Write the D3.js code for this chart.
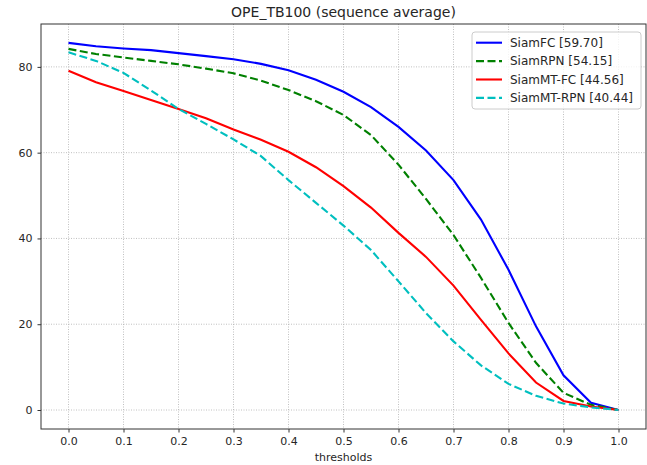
<!DOCTYPE html>
<html><head><meta charset="utf-8">
<script src="https://cdn.jsdelivr.net/npm/d3@7/dist/d3.min.js"></script>
<style>body{margin:0;background:#fff;} svg{display:block;} text{font-family:"DejaVu Sans",sans-serif;fill:#262626;}</style>
</head><body><svg id="c" width="647" height="465"></svg>
<script>
const thresholds = [0,0.05,0.1,0.15,0.2,0.25,0.3,0.35,0.4,0.45,0.5,0.55,0.6,0.65,0.7,0.75,0.8,0.85,0.9,0.95,1.0];
const siamFC    = [85.6,84.8,84.3,83.9,83.2,82.5,81.8,80.7,79.2,77.0,74.2,70.6,66.0,60.5,53.6,44.4,32.7,19.5,8.1,1.7,0];
const siamRPN   = [84.2,83.0,82.2,81.4,80.6,79.6,78.5,76.8,74.6,72.0,68.8,64.1,57.2,49.2,40.8,30.8,20.3,11.0,4.0,1.2,0];
const siamMTFC  = [79.1,76.4,74.4,72.3,70.2,68.0,65.4,63.0,60.2,56.6,52.2,47.2,41.3,35.7,29.0,21.0,13.2,6.4,2.1,0.8,0];
const siamMTRPN = [83.4,81.4,78.6,74.5,70.2,66.7,63.1,59.2,53.6,48.3,43.0,37.3,30.0,22.6,16.0,10.4,6.1,3.3,1.5,0.6,0];
const seriesNames = ["SiamFC [59.70]","SiamRPN [54.15]","SiamMT-FC [44.56]","SiamMT-RPN [40.44]"];
const seriesColors = ["#0000ff","#008000","#ff0000","#00bfbf"];
const seriesDashed = [false,true,false,true];
const xTicks = [0,0.1,0.2,0.3,0.4,0.5,0.6,0.7,0.8,0.9,1.0];
const yTicks = [0,20,40,60,80];
const title = "OPE_TB100 (sequence average)";
const xLabel = "thresholds";

const allSeries = [siamFC, siamRPN, siamMTFC, siamMTRPN];
const svg = d3.select("#c");
const L=41, R=646, T=24, B=429;
const x = d3.scaleLinear().domain([-0.05,1.05]).range([L,R]);
const y = d3.scaleLinear().domain([-4.43,90.0]).range([B,T]);

// grid
const g = svg.append("g");
g.selectAll(".gx").data(xTicks).join("line")
  .attr("x1",d=>x(d)).attr("x2",d=>x(d)).attr("y1",T).attr("y2",B)
  .attr("stroke","#b0b0b0").attr("stroke-width",0.8).attr("stroke-dasharray","1,1.5");
g.selectAll(".gy").data(yTicks).join("line")
  .attr("y1",d=>y(d)).attr("y2",d=>y(d)).attr("x1",L).attr("x2",R)
  .attr("stroke","#b0b0b0").attr("stroke-width",0.8).attr("stroke-dasharray","1,1.5");

// lines
const line = d3.line().x((d,i)=>x(thresholds[i])).y(d=>y(d));
allSeries.forEach((s,k)=>{
  svg.append("path").datum(s).attr("d",line).attr("fill","none")
    .attr("stroke",seriesColors[k]).attr("stroke-width",2.1)
    .attr("stroke-dasharray",seriesDashed[k]?"8,3.5":null);
});

// axes
const xa = svg.append("g").attr("transform",`translate(0,${B})`)
  .call(d3.axisBottom(x).tickValues(xTicks).tickFormat(d3.format(".1f")).tickSize(3.5).tickPadding(5));
const ya = svg.append("g").attr("transform",`translate(${L},0)`)
  .call(d3.axisLeft(y).tickValues(yTicks).tickSize(3.5).tickPadding(5));
[xa,ya].forEach(a=>{
  a.select(".domain").remove();
  a.selectAll("line").attr("stroke","#333");
  a.selectAll("text").attr("font-size","11px").attr("fill","#262626").attr("font-family","DejaVu Sans");
});
// spines
svg.append("rect").attr("x",L).attr("y",T).attr("width",R-L).attr("height",B-T)
  .attr("fill","none").attr("stroke","#333").attr("stroke-width",1);

svg.append("text").attr("x",(L+R)/2).attr("y",T-7).attr("text-anchor","middle")
  .attr("font-size","14px").text(title);
svg.append("text").attr("x",(L+R)/2).attr("y",461).attr("text-anchor","middle")
  .attr("font-size","11px").text(xLabel);

// legend
const lg = svg.append("g");
lg.append("rect").attr("x",472).attr("y",32).attr("width",169).attr("height",77).attr("rx",3)
  .attr("fill","#fff").attr("fill-opacity",0.8).attr("stroke","#cccccc").attr("stroke-width",1);
seriesNames.forEach((n,k)=>{
  const yy = 42.7 + k*18.4;
  lg.append("line").attr("x1",476).attr("x2",502).attr("y1",yy).attr("y2",yy)
    .attr("stroke",seriesColors[k]).attr("stroke-width",2.1)
    .attr("stroke-dasharray",seriesDashed[k]?"8,3.5":null);
  lg.append("text").attr("x",510).attr("y",yy).attr("dy","0.36em")
    .attr("font-size","12px").text(n);
});
</script></body></html>
